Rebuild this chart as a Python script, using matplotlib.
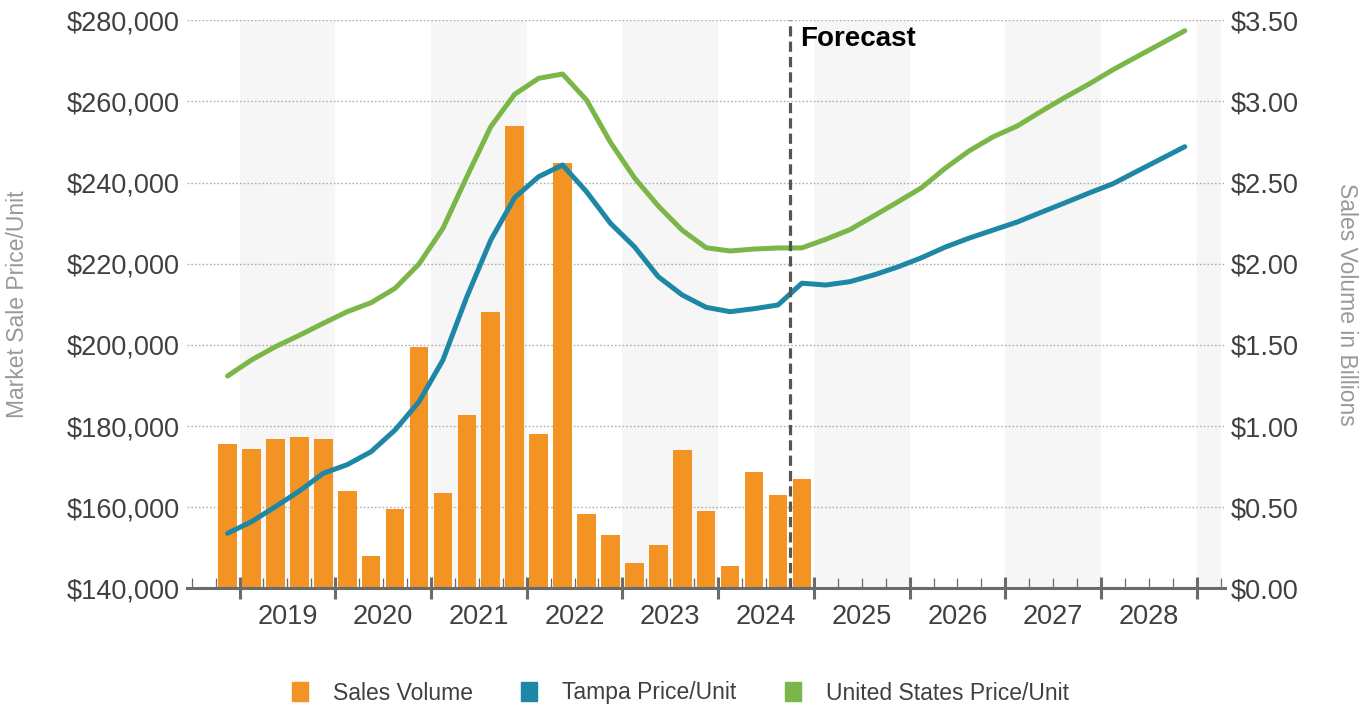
import matplotlib
matplotlib.use("Agg")
import matplotlib.pyplot as plt
import matplotlib.transforms as mtransforms
from matplotlib.patches import Patch
from matplotlib.ticker import FuncFormatter, FixedLocator

plt.rcParams["font.family"] = ["Liberation Sans", "DejaVu Sans"]

# ---- data ---------------------------------------------------------------
years = [2019, 2020, 2021, 2022, 2023, 2024, 2025, 2026, 2027, 2028]
first_year = 2018          # axis starts at 2018 Q3
first_quarter = 3
series_start = (2018, 4)   # all series begin in 2018 Q4
forecast_start = (2024, 4)

# quarterly sales volume, $ billions (2018 Q4 - 2024 Q4)
sales_volume_bn = [0.89, 0.86, 0.92, 0.93, 0.92, 0.60, 0.20, 0.49, 1.49, 0.59,
                   1.07, 1.70, 2.85, 0.95, 2.62, 0.46, 0.33, 0.155, 0.27, 0.85,
                   0.48, 0.14, 0.715, 0.575, 0.675]

# market sale price per unit (2018 Q4 - 2028 Q4)
tampa_price = [153600, 156450, 160150, 164000, 168370, 170500, 173700, 179040,
               186000, 196280, 211870, 225840, 236300, 241430, 244310, 237740,
               229950, 224190, 216800, 212290, 209260, 208180, 208920, 209830,
               215200, 214750, 215570, 217220, 219190, 221480, 224110, 226330,
               228300, 230270, 232660, 235020, 237410, 239700, 242760, 245790,
               248820]
us_price = [192340, 196280, 199560, 202360, 205320, 208180, 210400, 213940,
            219930, 228720, 241430, 253750, 261750, 265670, 266720, 260320,
            249900, 241180, 234210, 228230, 223940, 223130, 223620, 223870,
            223900, 226010, 228370, 231750, 235200, 238720, 243570, 247830,
            251280, 253920, 257540, 260990, 264260, 267780, 270990, 274190,
            277390]

left_ticks = [140000, 160000, 180000, 200000, 220000, 240000, 260000, 280000]
right_ticks = [0.0, 0.5, 1.0, 1.5, 2.0, 2.5, 3.0, 3.5]
legend_labels = ["Sales Volume", "Tampa Price/Unit", "United States Price/Unit"]

# ---- styling ------------------------------------------------------------
ORANGE = "#F39323"
BLUE = "#1E87A6"
GREEN = "#7AB648"
AXIS_GRAY = "#6b6b6b"
TEXT = "#404040"
LABEL_GRAY = "#999999"
BAND = "#f6f6f6"


def qpos(year, quarter):
    """Centre of a quarter on the x axis (0 = start of the first quarter)."""
    return (year - first_year) * 4 + (quarter - first_quarter) + 0.5


start = qpos(*series_start)
bar_x = [start + i for i in range(len(sales_volume_bn))]
line_x = [start + i for i in range(len(tampa_price))]
n_quarters = (years[-1] + 1 - first_year) * 4 + (1 - first_quarter) + 1
forecast_x = qpos(*forecast_start) - 0.5

fig = plt.figure(figsize=(13.7, 7.11), dpi=100)
ax2 = fig.add_axes([0.1364, 0.1723, 0.7581, 0.7994])   # bars, right scale
ax = ax2.twinx()                                         # lines, left scale
ax.yaxis.tick_left()
ax.yaxis.set_label_position("left")
ax2.yaxis.tick_right()
ax2.yaxis.set_label_position("right")
ax.set_zorder(ax2.get_zorder() + 1)
ax.patch.set_visible(False)

xlim = (-0.2, n_quarters + 0.2)
ax2.set_xlim(*xlim)
ax.set_ylim(left_ticks[0], left_ticks[-1])
ax2.set_ylim(right_ticks[0], right_ticks[-1])

# alternating year bands
for j, yr in enumerate(years + [years[-1] + 1]):
    if j % 2 == 0:
        x0 = qpos(yr, 1) - 0.5
        ax2.axvspan(x0, min(x0 + 4, n_quarters), color=BAND, lw=0, zorder=0)

# dotted horizontal grid
for v in right_ticks[1:]:
    ax2.axhline(v, color="#b0b0b0", lw=1.0, ls=(0, (1.2, 1.5)), zorder=1)

# bars
ax2.bar(bar_x, sales_volume_bn, width=0.78, color=ORANGE, zorder=2)

# price lines
ax.plot(line_x, us_price, color=GREEN, lw=3.6, solid_capstyle="round",
        solid_joinstyle="round", zorder=3)
ax.plot(line_x, tampa_price, color=BLUE, lw=3.6, solid_capstyle="round",
        solid_joinstyle="round", zorder=3)

# forecast divider
ax.axvline(forecast_x, color="#555555", lw=2.3, dashes=(3.2, 1.6), zorder=4)
fig.text(800 / 1370, 1 - 26 / 711, "Forecast", fontsize=20, fontweight="bold",
         color="black", ha="left", va="top")

# spines
for a in (ax, ax2):
    for s in ("left", "right", "top", "bottom"):
        a.spines[s].set_visible(False)
ax2.spines["bottom"].set_visible(True)
ax2.spines["bottom"].set_color(AXIS_GRAY)
ax2.spines["bottom"].set_linewidth(2.2)
ax2.spines["bottom"].set_zorder(5)

# x ticks: year boundaries (major) and quarter boundaries (minor)
major = [qpos(yr, 1) - 0.5 for yr in years + [years[-1] + 1]]
minor = [k for k in range(0, n_quarters + 1) if k not in major]
ax2.xaxis.set_major_locator(FixedLocator(major))
ax2.xaxis.set_minor_locator(FixedLocator(minor))
ax2.tick_params(axis="x", which="major", direction="inout", length=16,
                width=2.2, color=AXIS_GRAY, labelbottom=False, bottom=True)
ax2.tick_params(axis="x", which="minor", direction="in", length=7,
                width=0.9, color=AXIS_GRAY, bottom=True)
ax.tick_params(axis="x", which="both", length=0, labelbottom=False,
               bottom=False, top=False)

trans = mtransforms.blended_transform_factory(ax2.transData, ax2.transAxes)
for yr in years:
    ax2.text(qpos(yr, 1) + 1.5, -0.051, str(yr), transform=trans, ha="center",
             va="center", fontsize=19.5, color=TEXT)

# y ticks
ax.yaxis.set_major_locator(FixedLocator(left_ticks))
ax.yaxis.set_major_formatter(FuncFormatter(lambda v, p: f"${v:,.0f}"))
ax.tick_params(axis="y", length=0, pad=5, labelsize=19.5, labelcolor=TEXT)
ax2.yaxis.set_major_locator(FixedLocator(right_ticks))
ax2.yaxis.set_major_formatter(FuncFormatter(lambda v, p: f"${v:.2f}"))
ax2.tick_params(axis="y", length=0, pad=4, labelsize=19.5, labelcolor=TEXT)

# axis titles
fig.text(18 / 1370, 1 - 304 / 711, "Market Sale Price/Unit", rotation=90,
         ha="center", va="center", fontsize=16.5, color=LABEL_GRAY)
fig.text(1347 / 1370, 1 - 304 / 711, "Sales Volume in Billions", rotation=270,
         ha="center", va="center", fontsize=16.5, color=LABEL_GRAY)

# legend
handles = [Patch(color=ORANGE), Patch(color=BLUE), Patch(color=GREEN)]
fig.legend(handles, legend_labels, loc="center", ncol=3, frameon=False,
           bbox_to_anchor=(0.4967, 1 - 693 / 711), fontsize=16.5,
           handlelength=0.7, handleheight=0.9, handletextpad=1.1,
           columnspacing=2.1, labelcolor=TEXT)

fig.savefig("out.png", dpi=100)
